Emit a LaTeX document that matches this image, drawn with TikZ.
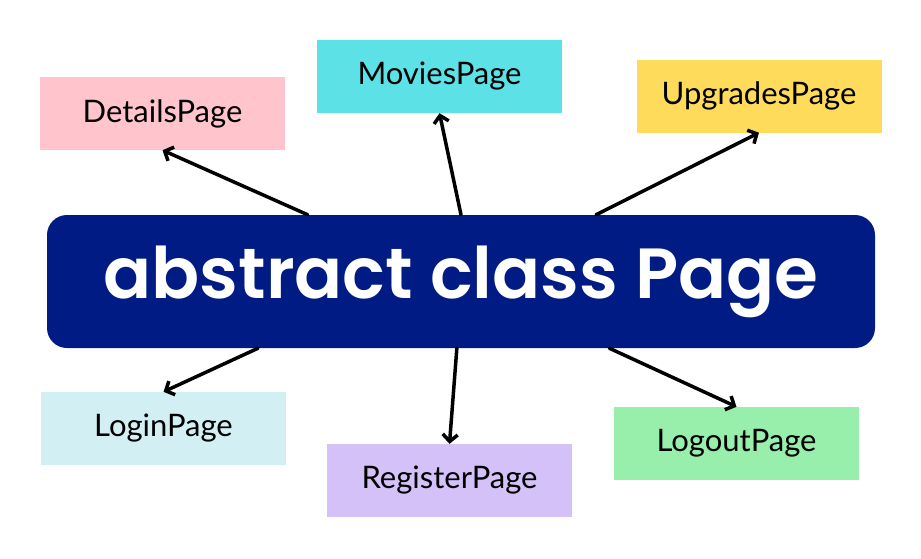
\documentclass[tikz,border=0pt]{standalone}
\usepackage{fontspec}
\setmainfont{Lato}
\newfontfamily\titlefont{Poppins}[UprightFont=* SemiBold]
\usetikzlibrary{arrows.meta,calc}
\definecolor{navy}{HTML}{001C84}
\definecolor{cpink}{HTML}{FFC4CC}
\definecolor{ccyan}{HTML}{5CE1E6}
\definecolor{cyellow}{HTML}{FFDB5C}
\definecolor{clight}{HTML}{D2F0F4}
\definecolor{cpurple}{HTML}{D3C1F7}
\definecolor{cgreen}{HTML}{98EEAB}
\tikzset{
  pagebox/.style={rectangle, minimum width=245pt, minimum height=73pt, inner sep=0pt,
    font=\fontsize{31}{36}\selectfont, text=black},
  mainbox/.style={rectangle, rounded corners=20pt, fill=navy, minimum width=828pt,
    minimum height=133pt, inner sep=0pt, text=white, font=\titlefont\fontsize{71}{80}\selectfont},
  arr/.style={line width=3.5pt, line cap=round, -{Straight Barb[length=7pt,width=15pt,line width=3.5pt]}}
}
\begin{document}
\begin{tikzpicture}[x=1pt,y=-1pt]
\useasboundingbox (0,0) rectangle (921,558);
\node[mainbox] (main) at (461,281.5) {abstract class Page};
\node[pagebox, fill=cpink] (details) at (162.5,113.5) {DetailsPage};
\node[pagebox, fill=ccyan] (movies) at (439.5,76.5) {MoviesPage};
\node[pagebox, fill=cyellow] (upgrades) at (759,96) {UpgradesPage};
\node[pagebox, fill=clight] (login) at (163.5,428.5) {LoginPage};
\node[pagebox, fill=cpurple] (register) at (449.5,480.5) {RegisterPage};
\node[pagebox, fill=cgreen] (logout) at (736.5,443.5) {LogoutPage};
\draw[arr] ($(main.north west)!0.315!(main.north east)$) -- (details.south);
\draw[arr] ($(main.north west)!0.5!(main.north east)$) -- (movies.south);
\draw[arr] ($(main.north west)!0.663!(main.north east)$) -- (upgrades.south);
\draw[arr] ($(main.south west)!0.255!(main.south east)$) -- (login.north);
\draw[arr] ($(main.south west)!0.495!(main.south east)$) -- (register.north);
\draw[arr] ($(main.south west)!0.679!(main.south east)$) -- (logout.north);
\end{tikzpicture}
\end{document}
